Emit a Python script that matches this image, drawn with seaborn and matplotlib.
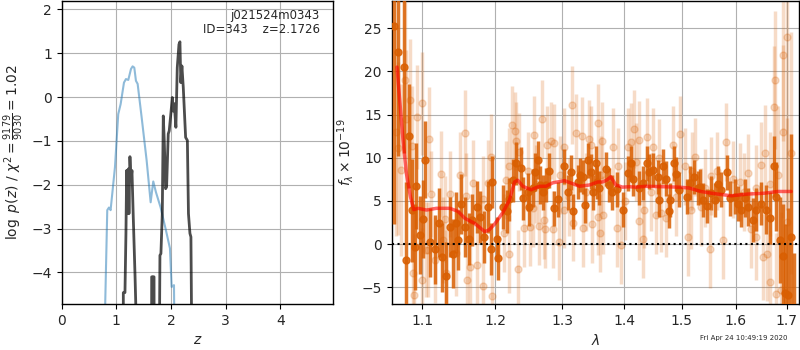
import numpy as np
import pandas as pd
import matplotlib
matplotlib.use("Agg")
import matplotlib.pyplot as plt
import seaborn as sns
from matplotlib.ticker import FixedLocator, NullLocator, FixedFormatter

# ---------------- left panel: redshift PDFs ----------------
z_blue = [0.774, 0.834, 0.865, 0.895, 0.975, 1.035, 1.079, 1.140, 1.176, 1.219, 1.268,
          1.298, 1.329, 1.359, 1.390, 1.463, 1.555, 1.628, 1.676, 1.725, 1.811, 1.908,
          1.981, 2.012, 2.055, 2.068]
lp_blue = [-6.0, -2.58, -2.52, -2.58, -1.60, -0.39, -0.16, 0.33, 0.41, 0.39, 0.64,
           0.70, 0.67, 0.37, 0.30, -0.46, -1.45, -2.40, -1.925, -2.17, -2.52, -3.04,
           -3.45, -4.33, -4.29, -6.0]

z_dark = [1.127, 1.128, 1.158, 1.176, 1.189, 1.207, 1.219, 1.231, 1.249, 1.268, 1.286,
          1.310, 1.341, 1.383,
          1.645, 1.647, 1.660, 1.662, 1.675, 1.677, 1.690, 1.692,
          1.786, 1.798, 1.816, 1.841, 1.859, 1.877, 1.902, 1.920, 1.950, 1.968, 2.000,
          2.024, 2.040, 2.060, 2.090, 2.115, 2.146, 2.164, 2.180, 2.200, 2.225, 2.268,
          2.300, 2.320, 2.347, 2.365, 2.383]
lp_dark = [-6.0, -4.46, -4.46, -3.11, -1.675, -2.66, -1.64, -2.66, -1.36, -1.90, -1.675,
           -2.74, -4.02, -6.0,
           -6.0, -4.10, -4.10, -6.0, -6.0, -4.10, -4.10, -6.0,
           -6.0, -3.61, -3.57, -2.66, -0.43, -0.99, -2.09, -2.05, -0.84, -0.77, -0.35,
           -0.01, -0.32, -0.15, -0.69, 0.67, 1.20, 1.26, 0.33, 0.71, 0.22, -0.92,
           -0.99, -2.66, -3.11, -3.19, -6.0]

# ---------------- right panel: spectrum ----------------
wave_dark = [1.0629, 1.0684, 1.0761, 1.0791, 1.0825, 1.0869, 1.0899, 1.0921, 1.0964, 1.1008,
             1.1039, 1.1106, 1.1163, 1.1221, 1.1266, 1.1320, 1.1369, 1.1410, 1.1457, 1.1478,
             1.1516, 1.1571, 1.1630, 1.1678, 1.1742, 1.1780, 1.1837, 1.1898, 1.1936, 1.1955,
             1.2022, 1.2037, 1.2109, 1.2167, 1.2196, 1.2255, 1.2303, 1.2377, 1.2402, 1.2476,
             1.2502, 1.2551, 1.2592, 1.2626, 1.2667, 1.2702, 1.2752, 1.2804, 1.2870, 1.2932,
             1.3025, 1.3088, 1.3140, 1.3177, 1.3245, 1.3282, 1.3325, 1.3352, 1.3405, 1.3448,
             1.3485, 1.3529, 1.3550, 1.3587, 1.3696, 1.3750, 1.3795, 1.3873, 1.3973, 1.4057,
             1.4112, 1.4151, 1.4253, 1.4311, 1.4380, 1.4425, 1.4494, 1.4570, 1.4598, 1.4658,
             1.4715, 1.4763, 1.4786, 1.4862, 1.4892, 1.4951, 1.5084, 1.5144, 1.5211, 1.5284,
             1.5321, 1.5381, 1.5461, 1.5535, 1.5598, 1.5660, 1.5722, 1.5835, 1.5880, 1.5976,
             1.6039, 1.6102, 1.6168, 1.6232, 1.6329, 1.6394, 1.6492, 1.6591, 1.6659, 1.6745,
             1.6791, 1.6859, 1.6926, 1.6973, 1.7028, 1.7083, 1.7150]
flux_dark = [25.3, 22.2, 20.5, -1.8, 12.5, 3.9, -0.35, 6.7, 1.1, 2.9,
             9.8, 0.2, -0.6, 2.5, -1.5, -3.7, 2.0, -1.1, 2.5, 0.5,
             4.65, 2.0, 0.6, 2.8, 4.3, 3.1, 0.8, 4.3, -0.6, 7.2,
             0.6, -1.6, 4.3, 3.8, 5.2, 7.4, 9.35, 8.8, 5.3, 6.0,
             4.3, 6.5, 8.3, 9.7, 6.85, 6.0, 6.85, 8.5, 4.15, 5.2,
             9.0, 6.0, 8.3, 3.8, 7.2, 8.0, 7.8, 4.5, 9.7, 8.4,
             6.0, 9.35, 7.2, 6.5, 8.7, 6.85, 6.0, 6.35, 4.0, 8.2,
             9.35, 7.6, 6.5, 7.1, 9.35, 8.4, 8.6, 7.8, 5.1, 9.0,
             7.6, 3.85, 5.1, 9.35, 8.1, 6.3, 5.5, 7.1, 7.8, 6.5,
             6.65, 5.1, 4.4, 5.9, 5.1, 7.0, 6.3, 8.3, 5.3, 5.5,
             4.7, 4.0, 5.3, 4.3, 2.8, 4.0, 4.7, 4.0, 3.0, 9.0,
             5.5, 0.5, -1.4, -5.7, -5.85, 0.8, -9.0]
err_dark = [23, 12, 10, 9, 6, 6, 5, 5, 4.5, 4.5,
            4.5, 4, 4, 4, 4, 4, 3.5, 4, 3.5, 3.5,
            3.5, 3.5, 3, 3, 3, 3, 3, 3, 3, 3,
            2.5, 2.5, 2.5, 2.5, 2.5, 2.5, 2.5, 2.5, 2.5, 2.2,
            2.2, 2.2, 2.2, 2.2, 2.2, 2, 2, 2, 2, 2,
            2, 2, 2, 2, 2, 2, 2, 2, 2, 2,
            2, 2, 2, 2, 2, 2, 2, 2, 2, 2,
            2, 2, 2, 2, 2, 2, 2, 2, 2, 2,
            2, 2, 2, 2, 2, 2, 2, 2, 2, 2,
            2, 2, 2, 2, 2, 2, 2, 2, 2, 2,
            2, 2, 2.2, 2.2, 2.5, 2.5, 2.5, 2.8, 3, 3.5,
            4, 5, 6, 8, 10, 12, 8]

wave_light = [1.0663, 1.0684, 1.0727, 1.0770, 1.0791, 1.0834, 1.0869, 1.0877, 1.0885, 1.0929,
              1.0995, 1.1000, 1.1053, 1.1074, 1.1087, 1.1119, 1.1163, 1.1243, 1.1274, 1.1297,
              1.1320, 1.1375, 1.1457, 1.1502, 1.1575, 1.1585, 1.1603, 1.1640, 1.1686, 1.1742,
              1.1827, 1.1830, 1.1898, 1.1946, 1.1950, 1.2134, 1.2157, 1.2200, 1.2206, 1.2244,
              1.2280, 1.2303, 1.2328, 1.2353, 1.2427, 1.2480, 1.2511, 1.2551, 1.2577, 1.2600,
              1.2652, 1.2691, 1.2728, 1.2743, 1.2768, 1.2829, 1.2866, 1.2875, 1.2948, 1.2960,
              1.3025, 1.3036, 1.3110, 1.3155, 1.3166, 1.3209, 1.3314, 1.3325, 1.3380, 1.3416,
              1.3458, 1.3474, 1.3566, 1.3577, 1.3598, 1.3620, 1.3642, 1.3652, 1.3807, 1.3873,
              1.3900, 1.3945, 1.4020, 1.4057, 1.4112, 1.4168, 1.4200, 1.4243, 1.4253, 1.4311,
              1.4339, 1.4385, 1.4460, 1.4483, 1.4541, 1.4600, 1.4628, 1.4715, 1.4834, 1.4900,
              1.4969, 1.5050, 1.5102, 1.5162, 1.5180, 1.5240, 1.5350, 1.5420, 1.5505, 1.5535,
              1.5650, 1.5754, 1.5816, 1.5950, 1.6071, 1.6150, 1.6232, 1.6296, 1.6394, 1.6400,
              1.6492, 1.6526, 1.6560, 1.6611, 1.6659, 1.6665, 1.6745, 1.6771, 1.6791, 1.6825,
              1.6892, 1.6926, 1.6930, 1.7000, 1.7013, 1.7095]
flux_light = [13.0, 11.1, 8.6, 19.0, 14.5, 16.7, 11.35, -3.35, -5.85, 14.7,
              16.3, -4.1, -0.65, -0.65, 12.2, 5.8, -1.8, 8.1, 0.5, 2.9,
              -3.35, 5.8, -1.05, 8.0, 12.9, 5.6, -4.1, -2.6, 7.1, -2.4,
              5.2, -4.8, 7.1, 10.1, -6.0, 1.3, 7.4, 9.0, -1.1, 13.8,
              13.1, 12.0, -2.9, 10.7, 1.85, 8.5, 2.0, 4.15, 12.6, 7.0,
              2.1, 14.5, 2.8, 1.7, 11.5, 12.0, 1.7, 11.7, 0.3, 8.0,
              11.3, 4.0, 5.5, 16.1, 2.5, 12.9, 12.5, 1.85, 6.0, 12.2,
              11.5, 2.35, 14.0, 3.2, 1.3, 8.0, 12.0, 3.4, 11.3, 1.85,
              9.0, -0.1, 5.0, 11.3, 11.85, 13.3, 9.5, 2.7, 12.1, 0.6,
              4.0, 12.4, 6.0, 11.3, 3.4, 10.0, 3.6, 3.0, 11.5, 5.5,
              12.7, 9.0, 0.8, 3.9, 8.5, 10.1, 4.3, 6.5, -0.6, 7.9,
              8.5, 0.5, 11.85, 7.5, 7.2, 6.0, 8.2, 1.7, 0.8, 6.5,
              9.15, -1.5, 10.6, -1.1, -4.4, 7.0, 15.9, 19.0, -5.75, 8.0,
              -5.3, 21.9, 13.0, 24.0, 2.6, 10.6]
err_light = [12, 10, 10, 9, 8, 7, 7, 7, 7, 6,
             6, 6, 5.5, 5.5, 6, 5, 5, 5, 5, 5,
             5, 5, 5, 5, 5, 5, 5, 5, 5, 5,
             5, 5, 5, 5, 5, 4.5, 4.5, 4.5, 4.5, 4.5,
             4.5, 4.5, 4.5, 4.5, 4.5, 4.5, 4.5, 4.5, 4.5, 4.5,
             4.5, 4.5, 4.5, 4.5, 4.5, 4.5, 4.5, 4.5, 4.5, 4.5,
             4.5, 4.5, 4.5, 4.5, 4.5, 4.5, 4.5, 4.5, 4.5, 4.5,
             4.5, 4.5, 4.5, 4.5, 4.5, 4.5, 4.5, 4.5, 4.5, 4.5,
             4.5, 4.5, 4.5, 4.5, 4.5, 4.5, 4.5, 4.5, 4.5, 4.5,
             4.5, 4.5, 4.5, 4.5, 4.5, 4.5, 4.5, 4.5, 4.5, 4.5,
             4.5, 4.5, 4.5, 4.5, 4.5, 4.5, 4.5, 4.5, 4.5, 4.5,
             4.5, 4.5, 4.5, 4.5, 4.5, 4.5, 4.5, 4.5, 5, 5,
             5, 5, 5.5, 5.5, 6, 6, 7, 8, 7, 8,
             9, 10, 10, 20, 12, 14]

wave_model = [1.0671, 1.0705, 1.0748, 1.0791, 1.0843, 1.0886, 1.0942, 1.1053, 1.1186, 1.1365,
              1.1478, 1.1571, 1.1710, 1.1851, 1.1912, 1.1994, 1.2109, 1.2206, 1.2280, 1.2328,
              1.2402, 1.2526, 1.2652, 1.2752, 1.2855, 1.3036, 1.3166, 1.3272, 1.3432, 1.3566,
              1.3642, 1.3708, 1.3778, 1.3861, 1.3973, 1.4084, 1.4197, 1.4368, 1.4658, 1.4951,
              1.5131, 1.5344, 1.5535, 1.5911, 1.6232, 1.6560, 1.6825, 1.7095]
flux_model = [20.5, 16.7, 12.0, 8.2, 5.5, 4.0, 4.15, 3.95, 4.15, 4.15,
              3.8, 3.0, 2.4, 1.45, 1.65, 2.35, 3.65, 5.1, 7.2, 7.4,
              6.7, 6.3, 6.7, 6.7, 7.1, 7.35, 7.0, 6.7, 6.85, 7.2,
              7.2, 7.4, 7.8, 6.85, 6.6, 6.65, 6.6, 6.7, 6.65, 6.6,
              6.5, 6.1, 5.9, 5.6, 5.8, 5.9, 6.1, 6.1]

lam_ticks = [1.1, 1.2, 1.3, 1.4, 1.5, 1.6, 1.7]
lam_tick_labels = ["1.1", "1.2", "1.3", "1.4", "1.5", "1.6", "1.7"]

label_text = "j021524m0343\nID=343    z=2.1726"
date_text = "Fri Apr 24 10:49:19 2020"

# ---------------- figure ----------------
sns.set_style("white")
plt.rcParams['font.family'] = ['DejaVu Sans']
plt.rcParams['mathtext.fontset'] = 'dejavusans'
plt.rcParams['xtick.bottom'] = True
plt.rcParams['ytick.left'] = True

fig = plt.figure(figsize=(8, 3.5), dpi=100)
ax1 = fig.add_axes([0.0771, 0.1314, 0.3395, 0.8657])
ax2 = fig.add_axes([0.4896, 0.1314, 0.5091, 0.8657])

for ax in (ax1, ax2):
    for sp in ax.spines.values():
        sp.set_color('black')
        sp.set_linewidth(1.0)
    ax.tick_params(axis='both', which='major', length=3.5, width=0.8, color='black',
                   labelsize=10, direction='out')
    ax.grid(True, color='#b0b0b0', linewidth=0.8)
    ax.set_axisbelow(True)

df_blue = pd.DataFrame({'z': z_blue, 'lp': lp_blue})
df_dark = pd.DataFrame({'z': z_dark, 'lp': lp_dark})
sns.lineplot(data=df_blue, x='z', y='lp', ax=ax1, color='#1f77b4', alpha=0.5,
             linewidth=1.5, sort=False, estimator=None)
sns.lineplot(data=df_dark, x='z', y='lp', ax=ax1, color='black', alpha=0.7,
             linewidth=2.0, sort=False, estimator=None)
ax1.set_xlim(0, 4.97)
ax1.set_ylim(-4.72, 2.19)
ax1.set_xticks([0, 1, 2, 3, 4])
ax1.set_yticks([-4, -3, -2, -1, 0, 1, 2])
ax1.set_yticklabels(['\u22124', '\u22123', '\u22122', '\u22121', '0', '1', '2'])
ax1.set_xlabel(r'$z$', fontsize=10)
ax1.set_ylabel(r'$\log\ p(z)$ / $\chi^2=\frac{9179}{9030}=1.02$', fontsize=10)
ax1.text(0.95, 0.975, label_text, transform=ax1.transAxes, ha='right', va='top',
         fontsize=8.5, linespacing=1.1)

orange = '#d95f02'
ax2.errorbar(wave_light, flux_light, yerr=err_light, fmt='o', color=orange, alpha=0.22,
             markersize=5, elinewidth=2.5, capsize=0, zorder=2)
ax2.errorbar(wave_dark, flux_dark, yerr=err_dark, fmt='o', color=orange, alpha=0.85,
             markersize=5, elinewidth=2.5, capsize=0, zorder=3)
df_model = pd.DataFrame({'wave': wave_model, 'flux': flux_model})
sns.lineplot(data=df_model, x='wave', y='flux', ax=ax2, color='red', alpha=0.6,
             linewidth=2.5, sort=False, estimator=None, zorder=4)
ax2.axhline(0, color='black', linestyle=':', linewidth=1.5, zorder=5)

ax2.set_xscale('log')
ax2.set_xlim(1.0603, 1.7254)
ax2.xaxis.set_major_locator(FixedLocator(lam_ticks))
ax2.xaxis.set_major_formatter(FixedFormatter(lam_tick_labels))
ax2.xaxis.set_minor_locator(NullLocator())
ax2.set_ylim(-6.93, 28.15)
ax2.set_yticks([-5, 0, 5, 10, 15, 20, 25])
ax2.set_yticklabels(['\u22125', '0', '5', '10', '15', '20', '25'])
ax2.set_xlabel(r'$\lambda$', fontsize=10)
ax2.set_ylabel(r'$f_\lambda\times10^{-19}$', fontsize=10)

fig.text(0.985, 0.025, date_text, ha='right', va='bottom', fontsize=5)

fig.savefig('out.png', dpi=100)
